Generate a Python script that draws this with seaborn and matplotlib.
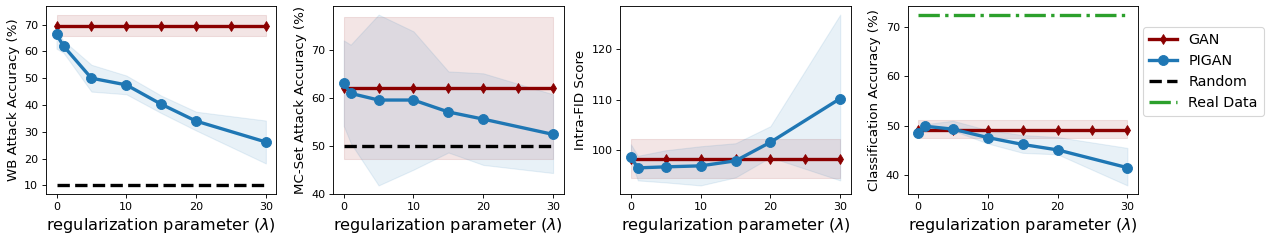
import matplotlib
matplotlib.use("Agg")
import matplotlib.pyplot as plt
import numpy as np
import seaborn as sns

# lambda values
lam_gan = [0, 5, 10, 15, 20, 25, 30]
lam_pigan = [0, 1, 5, 10, 15, 20, 30]
lam_line = [0, 30]

# WB attack accuracy
wb_gan, wb_gan_lo, wb_gan_hi = 69.3, 65.9, 73.7
wb_pigan = [66.3, 62.0, 50.0, 47.5, 40.3, 34.0, 26.2]
wb_pigan_lo = [61.0, 59.5, 45.0, 44.0, 37.0, 30.5, 18.2]
wb_pigan_hi = [67.5, 64.0, 55.0, 51.0, 43.5, 37.5, 34.2]
wb_random = 10

# MC-set attack accuracy
mc_gan, mc_gan_lo, mc_gan_hi = 62.1, 47.2, 77.0
mc_pigan = [63.1, 61.0, 59.6, 59.6, 57.1, 55.6, 52.4]
mc_pigan_lo = [54.2, 50.6, 41.7, 45.0, 48.6, 46.0, 44.3]
mc_pigan_hi = [72.1, 71.2, 77.5, 74.0, 65.6, 65.2, 60.8]
mc_random = 50

# Intra-FID
fid_gan, fid_gan_lo, fid_gan_hi = 98.2, 94.3, 102.1
fid_pigan = [98.5, 96.4, 96.6, 96.8, 97.8, 101.5, 110.2]
fid_pigan_lo = [97.9, 93.9, 93.5, 92.9, 94.5, 98.5, 93.9]
fid_pigan_hi = [101.1, 98.8, 99.9, 100.7, 101.3, 104.7, 126.9]

# classification accuracy
cls_gan, cls_gan_lo, cls_gan_hi = 49.2, 47.6, 51.2
cls_pigan = [48.6, 49.9, 49.3, 47.6, 46.2, 45.1, 41.5]
cls_pigan_lo = [48.1, 49.1, 49.0, 46.4, 44.5, 44.2, 37.9]
cls_pigan_hi = [49.5, 50.3, 51.0, 49.1, 48.1, 47.7, 45.5]
cls_real = 72.5

ylabels = ['WB Attack Accuracy (%)', 'MC-Set Attack Accuracy (%)',
           'Intra-FID Score', 'Classification Accuracy (%)']
yticks = [[10, 20, 30, 40, 50, 60, 70], [40, 50, 60, 70], [100, 110, 120], [40, 50, 60, 70]]

GAN_C = 'darkred'
PIGAN_C = '#1f77b4'
LW = 3


def panel(ax, gan, gan_lo, gan_hi, pig, pig_lo, pig_hi):
    n = len(lam_gan)
    ax.fill_between(lam_gan, [gan_lo] * n, [gan_hi] * n, color=GAN_C, alpha=0.1, linewidth=1)
    ax.fill_between(lam_pigan, pig_lo, pig_hi, color=PIGAN_C, alpha=0.1, linewidth=1)
    sns.lineplot(x=lam_gan, y=[gan] * n, ax=ax, color=GAN_C, marker='d', markersize=7,
                 markeredgecolor=GAN_C, linewidth=LW, label='GAN', legend=False)
    sns.lineplot(x=lam_pigan, y=pig, ax=ax, color=PIGAN_C, marker='o', markersize=9,
                 markeredgecolor=PIGAN_C, linewidth=LW, label='PIGAN', legend=False)


fig, axes = plt.subplots(1, 4, figsize=(15.86, 3.05), dpi=80)
fig.subplots_adjust(left=0.0363, right=0.8968, bottom=0.205, top=0.975, wspace=0.247)

panel(axes[0], wb_gan, wb_gan_lo, wb_gan_hi, wb_pigan, wb_pigan_lo, wb_pigan_hi)
sns.lineplot(x=lam_line, y=[wb_random] * 2, ax=axes[0], color='black', linestyle='--',
             linewidth=LW, label='Random', legend=False)
panel(axes[1], mc_gan, mc_gan_lo, mc_gan_hi, mc_pigan, mc_pigan_lo, mc_pigan_hi)
sns.lineplot(x=lam_line, y=[mc_random] * 2, ax=axes[1], color='black', linestyle='--',
             linewidth=LW, label='Random', legend=False)
panel(axes[2], fid_gan, fid_gan_lo, fid_gan_hi, fid_pigan, fid_pigan_lo, fid_pigan_hi)
panel(axes[3], cls_gan, cls_gan_lo, cls_gan_hi, cls_pigan, cls_pigan_lo, cls_pigan_hi)
sns.lineplot(x=lam_line, y=[cls_real] * 2, ax=axes[3], color='#2ca02c', linestyle='-.',
             linewidth=LW, label='Real Data', legend=False)

for ax, yl, yt in zip(axes, ylabels, yticks):
    ax.set_ylabel(yl, fontsize=12)
    ax.set_xlabel(r'regularization parameter ($\lambda$)', fontsize=14.5)
    ax.set_xticks([0, 10, 20, 30])
    ax.set_yticks(yt)
    ax.tick_params(labelsize=10)

h0, l0 = axes[0].get_legend_handles_labels()
h3, l3 = axes[3].get_legend_handles_labels()
handles = h0 + [h3[-1]]
labels = l0 + [l3[-1]]
axes[3].legend(handles, labels, loc='upper left', bbox_to_anchor=(1.022, 0.888), fontsize=12.8,
               borderaxespad=0)

fig.savefig('out.png', dpi=80)
